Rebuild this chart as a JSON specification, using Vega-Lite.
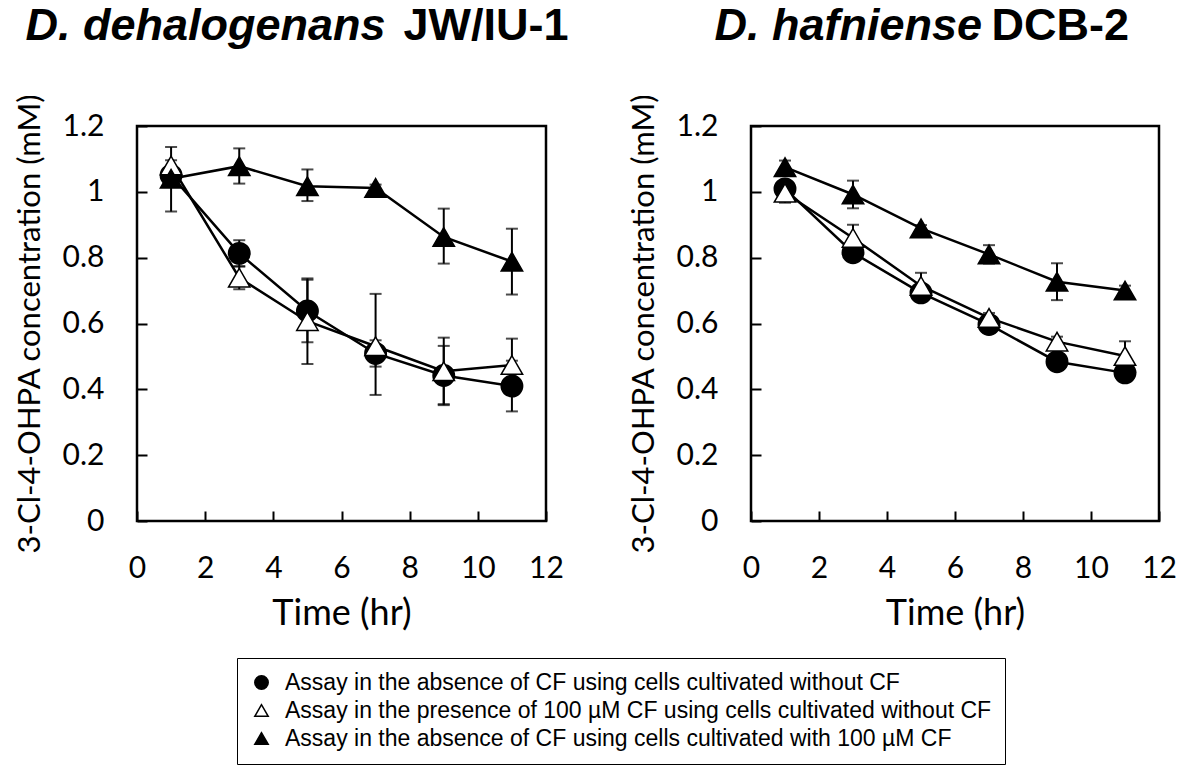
{
  "$schema": "https://vega.github.io/schema/vega-lite/v6.json",
  "background": "white",
  "padding": {"left": 12, "top": 1, "right": 5, "bottom": 5},
  "datasets": {
    "d": [
      {"panel": "L", "t": 1, "series": "Assay in the absence of CF using cells cultivated without CF", "v": 1.05, "lo": 1.04, "hi": 1.06},
      {"panel": "L", "t": 3, "series": "Assay in the absence of CF using cells cultivated without CF", "v": 0.813, "lo": 0.773, "hi": 0.853},
      {"panel": "L", "t": 5, "series": "Assay in the absence of CF using cells cultivated without CF", "v": 0.638, "lo": 0.543, "hi": 0.733},
      {"panel": "L", "t": 7, "series": "Assay in the absence of CF using cells cultivated without CF", "v": 0.509, "lo": 0.469, "hi": 0.549},
      {"panel": "L", "t": 9, "series": "Assay in the absence of CF using cells cultivated without CF", "v": 0.442, "lo": 0.352, "hi": 0.532},
      {"panel": "L", "t": 11, "series": "Assay in the absence of CF using cells cultivated without CF", "v": 0.41, "lo": 0.333, "hi": 0.487},
      {"panel": "L", "t": 1, "series": "Assay in the presence of 100 µM CF using cells cultivated without CF", "v": 1.08, "lo": 1.064, "hi": 1.096},
      {"panel": "L", "t": 3, "series": "Assay in the presence of 100 µM CF using cells cultivated without CF", "v": 0.739, "lo": 0.704, "hi": 0.774},
      {"panel": "L", "t": 5, "series": "Assay in the presence of 100 µM CF using cells cultivated without CF", "v": 0.607, "lo": 0.477, "hi": 0.737},
      {"panel": "L", "t": 7, "series": "Assay in the presence of 100 µM CF using cells cultivated without CF", "v": 0.531, "lo": 0.383, "hi": 0.69},
      {"panel": "L", "t": 9, "series": "Assay in the presence of 100 µM CF using cells cultivated without CF", "v": 0.455, "lo": 0.355, "hi": 0.557},
      {"panel": "L", "t": 11, "series": "Assay in the presence of 100 µM CF using cells cultivated without CF", "v": 0.474, "lo": 0.394, "hi": 0.554},
      {"panel": "L", "t": 1, "series": "Assay in the absence of  CF using cells cultivated with 100 µM CF", "v": 1.04, "lo": 0.94, "hi": 1.136},
      {"panel": "L", "t": 3, "series": "Assay in the absence of  CF using cells cultivated with 100 µM CF", "v": 1.078, "lo": 1.025, "hi": 1.132},
      {"panel": "L", "t": 5, "series": "Assay in the absence of  CF using cells cultivated with 100 µM CF", "v": 1.017, "lo": 0.972, "hi": 1.068},
      {"panel": "L", "t": 7, "series": "Assay in the absence of  CF using cells cultivated with 100 µM CF", "v": 1.012, "lo": 1.002, "hi": 1.022},
      {"panel": "L", "t": 9, "series": "Assay in the absence of  CF using cells cultivated with 100 µM CF", "v": 0.863, "lo": 0.782, "hi": 0.949},
      {"panel": "L", "t": 11, "series": "Assay in the absence of  CF using cells cultivated with 100 µM CF", "v": 0.788, "lo": 0.688, "hi": 0.888},
      {"panel": "R", "t": 1, "series": "Assay in the absence of CF using cells cultivated without CF", "v": 1.009, "lo": 0.989, "hi": 1.029},
      {"panel": "R", "t": 3, "series": "Assay in the absence of CF using cells cultivated without CF", "v": 0.815, "lo": 0.795, "hi": 0.835},
      {"panel": "R", "t": 5, "series": "Assay in the absence of CF using cells cultivated without CF", "v": 0.693, "lo": 0.673, "hi": 0.713},
      {"panel": "R", "t": 7, "series": "Assay in the absence of CF using cells cultivated without CF", "v": 0.597, "lo": 0.577, "hi": 0.617},
      {"panel": "R", "t": 9, "series": "Assay in the absence of CF using cells cultivated without CF", "v": 0.484, "lo": 0.474, "hi": 0.494},
      {"panel": "R", "t": 11, "series": "Assay in the absence of CF using cells cultivated without CF", "v": 0.45, "lo": 0.44, "hi": 0.46},
      {"panel": "R", "t": 1, "series": "Assay in the presence of 100 µM CF using cells cultivated without CF", "v": 0.997, "lo": 0.967, "hi": 1.027},
      {"panel": "R", "t": 3, "series": "Assay in the presence of 100 µM CF using cells cultivated without CF", "v": 0.86, "lo": 0.82, "hi": 0.9},
      {"panel": "R", "t": 5, "series": "Assay in the presence of 100 µM CF using cells cultivated without CF", "v": 0.714, "lo": 0.674, "hi": 0.754},
      {"panel": "R", "t": 7, "series": "Assay in the presence of 100 µM CF using cells cultivated without CF", "v": 0.617, "lo": 0.602, "hi": 0.632},
      {"panel": "R", "t": 9, "series": "Assay in the presence of 100 µM CF using cells cultivated without CF", "v": 0.545, "lo": 0.53, "hi": 0.56},
      {"panel": "R", "t": 11, "series": "Assay in the presence of 100 µM CF using cells cultivated without CF", "v": 0.501, "lo": 0.456, "hi": 0.546},
      {"panel": "R", "t": 1, "series": "Assay in the absence of  CF using cells cultivated with 100 µM CF", "v": 1.075, "lo": 1.055, "hi": 1.095},
      {"panel": "R", "t": 3, "series": "Assay in the absence of  CF using cells cultivated with 100 µM CF", "v": 0.992, "lo": 0.95, "hi": 1.034},
      {"panel": "R", "t": 5, "series": "Assay in the absence of  CF using cells cultivated with 100 µM CF", "v": 0.889, "lo": 0.879, "hi": 0.899},
      {"panel": "R", "t": 7, "series": "Assay in the absence of  CF using cells cultivated with 100 µM CF", "v": 0.81, "lo": 0.782, "hi": 0.838},
      {"panel": "R", "t": 9, "series": "Assay in the absence of  CF using cells cultivated with 100 µM CF", "v": 0.727, "lo": 0.671, "hi": 0.783},
      {"panel": "R", "t": 11, "series": "Assay in the absence of  CF using cells cultivated with 100 µM CF", "v": 0.70, "lo": 0.685, "hi": 0.715}
    ]
  },
  "data": {"name": "d"},
  "spacing": 205,
  "bounds": "flush",
  "resolve": {"scale": {"shape": "shared", "fill": "shared", "stroke": "shared"}, "legend": {"shape": "shared", "fill": "shared", "stroke": "shared"}},
  "hconcat": [
    {
      "width": 409,
      "height": 395,
      "transform": [{"filter": "datum.panel == 'L'"}],
      "resolve": {"axis": {"x": "independent"}},
      "layer": [
        {
          "mark": {"type": "errorbar", "ticks": true, "size": 12, "thickness": 2, "color": "black"},
          "encoding": {
            "x": {"field": "t", "type": "quantitative", "scale": {"domain": [0, 12]},
              "axis": {"orient": "top", "title": "D. dehalogenans", "labels": false, "ticks": false, "domain": false, "grid": false,
                "titleFont": "Liberation Sans", "titleFontSize": 45, "titleFontWeight": "bold", "titleFontStyle": "italic", "titleColor": "black",
                "titleX": -112, "titleY": -87, "titleAlign": "left", "titleBaseline": "alphabetic", "titleAngle": 0}},
            "y": {"field": "lo", "type": "quantitative", "scale": {"domain": [0, 1.2]},
              "axis": {"title": "3-Cl-4-OHPA concentration (mM)", "values": [0, 0.2, 0.4, 0.6, 0.8, 1, 1.2], "format": "~g", "grid": false, "domain": false, "labelFlush": false,
                "tickSize": -10, "tickWidth": 2, "tickColor": "black", "labelFont": "Lato", "labelFontSize": 30, "labelColor": "black", "labelPadding": 43,
                "titleFont": "Lato", "titleFontSize": 31, "titleFontWeight": "normal", "titleColor": "black", "titlePadding": 16}},
            "y2": {"field": "hi"},
            "detail": {"field": "series"}
          }
        },
        {
          "mark": {"type": "line", "color": "black", "strokeWidth": 2.5},
          "encoding": {
            "x": {"field": "t", "type": "quantitative", "scale": {"domain": [0, 12]},
              "axis": {"orient": "bottom", "title": "Time (hr)", "values": [0, 2, 4, 6, 8, 10, 12], "grid": false, "domain": false, "labelFlush": false,
                "tickSize": -10, "tickWidth": 2, "tickColor": "black", "labelFont": "Lato", "labelFontSize": 30, "labelColor": "black", "labelPadding": 42,
                "titleFont": "Lato", "titleFontSize": 36, "titleFontWeight": "normal", "titleColor": "black", "titlePadding": 13}},
            "y": {"field": "v", "type": "quantitative", "scale": {"domain": [0, 1.2]},
              "axis": {"title": "3-Cl-4-OHPA concentration (mM)", "values": [0, 0.2, 0.4, 0.6, 0.8, 1, 1.2], "format": "~g", "grid": false, "domain": false, "labelFlush": false,
                "tickSize": -10, "tickWidth": 2, "tickColor": "black", "labelFont": "Lato", "labelFontSize": 30, "labelColor": "black", "labelPadding": 43,
                "titleFont": "Lato", "titleFontSize": 31, "titleFontWeight": "normal", "titleColor": "black", "titlePadding": 16}},
            "detail": {"field": "series"}
          }
        },
        {
          "mark": {"type": "point", "filled": true, "strokeWidth": 1.5, "opacity": 1, "size": 460},
          "encoding": {
            "x": {"field": "t", "type": "quantitative", "scale": {"domain": [0, 12]},
              "axis": {"orient": "top", "title": "JW/IU-1", "labels": false, "ticks": false, "domain": false, "grid": false,
                "titleFont": "Liberation Sans", "titleFontSize": 45, "titleFontWeight": "bold", "titleFontStyle": "normal", "titleColor": "black",
                "titleX": 266, "titleY": -87, "titleAlign": "left", "titleBaseline": "alphabetic", "titleAngle": 0}},
            "y": {"field": "v", "type": "quantitative", "scale": {"domain": [0, 1.2]},
              "axis": {"title": "3-Cl-4-OHPA concentration (mM)", "values": [0, 0.2, 0.4, 0.6, 0.8, 1, 1.2], "format": "~g", "grid": false, "domain": false, "labelFlush": false,
                "tickSize": -10, "tickWidth": 2, "tickColor": "black", "labelFont": "Lato", "labelFontSize": 30, "labelColor": "black", "labelPadding": 43,
                "titleFont": "Lato", "titleFontSize": 31, "titleFontWeight": "normal", "titleColor": "black", "titlePadding": 16}},
            "shape": {"field": "series", "type": "nominal",
              "scale": {"domain": ["Assay in the absence of CF using cells cultivated without CF", "Assay in the presence of 100 µM CF using cells cultivated without CF", "Assay in the absence of  CF using cells cultivated with 100 µM CF"], "range": ["circle", "triangle-up", "triangle-up"]},
              "legend": {"orient": "none", "legendX": 100, "legendY": 532, "title": null, "direction": "vertical", "strokeColor": "black", "fillColor": "white", "padding": 13, "labelFont": "Liberation Sans", "labelFontSize": 23, "labelColor": "black", "labelLimit": 900, "labelOffset": 12, "symbolSize": 180, "symbolStrokeWidth": 1.5, "symbolOpacity": 1, "rowPadding": 4, "cornerRadius": 0}},
            "fill": {"field": "series", "type": "nominal",
              "scale": {"domain": ["Assay in the absence of CF using cells cultivated without CF", "Assay in the presence of 100 µM CF using cells cultivated without CF", "Assay in the absence of  CF using cells cultivated with 100 µM CF"], "range": ["black", "white", "black"]},
              "legend": {"orient": "none", "legendX": 100, "legendY": 532, "title": null, "direction": "vertical", "strokeColor": "black", "fillColor": "white", "padding": 13, "labelFont": "Liberation Sans", "labelFontSize": 23, "labelColor": "black", "labelLimit": 900, "labelOffset": 12, "symbolSize": 180, "symbolStrokeWidth": 1.5, "symbolOpacity": 1, "rowPadding": 4, "cornerRadius": 0}},
            "stroke": {"field": "series", "type": "nominal",
              "scale": {"domain": ["Assay in the absence of CF using cells cultivated without CF", "Assay in the presence of 100 µM CF using cells cultivated without CF", "Assay in the absence of  CF using cells cultivated with 100 µM CF"], "range": ["black", "black", "black"]},
              "legend": {"orient": "none", "legendX": 100, "legendY": 532, "title": null, "direction": "vertical", "strokeColor": "black", "fillColor": "white", "padding": 13, "labelFont": "Liberation Sans", "labelFontSize": 23, "labelColor": "black", "labelLimit": 900, "labelOffset": 12, "symbolSize": 180, "symbolStrokeWidth": 1.5, "symbolOpacity": 1, "rowPadding": 4, "cornerRadius": 0}}
          }
        }
      ]
    },
    {
      "width": 408,
      "height": 395,
      "transform": [{"filter": "datum.panel == 'R'"}],
      "resolve": {"axis": {"x": "independent"}},
      "layer": [
        {
          "mark": {"type": "errorbar", "ticks": true, "size": 12, "thickness": 2, "color": "black"},
          "encoding": {
            "x": {"field": "t", "type": "quantitative", "scale": {"domain": [0, 12]},
              "axis": {"orient": "top", "title": "D. hafniense", "labels": false, "ticks": false, "domain": false, "grid": false,
                "titleFont": "Liberation Sans", "titleFontSize": 45, "titleFontWeight": "bold", "titleFontStyle": "italic", "titleColor": "black",
                "titleX": -37, "titleY": -87, "titleAlign": "left", "titleBaseline": "alphabetic", "titleAngle": 0}},
            "y": {"field": "lo", "type": "quantitative", "scale": {"domain": [0, 1.2]},
              "axis": {"title": "3-Cl-4-OHPA concentration (mM)", "values": [0, 0.2, 0.4, 0.6, 0.8, 1, 1.2], "format": "~g", "grid": false, "domain": false, "labelFlush": false,
                "tickSize": -10, "tickWidth": 2, "tickColor": "black", "labelFont": "Lato", "labelFontSize": 30, "labelColor": "black", "labelPadding": 43,
                "titleFont": "Lato", "titleFontSize": 31, "titleFontWeight": "normal", "titleColor": "black", "titlePadding": 16}},
            "y2": {"field": "hi"},
            "detail": {"field": "series"}
          }
        },
        {
          "mark": {"type": "line", "color": "black", "strokeWidth": 2.5},
          "encoding": {
            "x": {"field": "t", "type": "quantitative", "scale": {"domain": [0, 12]},
              "axis": {"orient": "bottom", "title": "Time (hr)", "values": [0, 2, 4, 6, 8, 10, 12], "grid": false, "domain": false, "labelFlush": false,
                "tickSize": -10, "tickWidth": 2, "tickColor": "black", "labelFont": "Lato", "labelFontSize": 30, "labelColor": "black", "labelPadding": 42,
                "titleFont": "Lato", "titleFontSize": 36, "titleFontWeight": "normal", "titleColor": "black", "titlePadding": 13}},
            "y": {"field": "v", "type": "quantitative", "scale": {"domain": [0, 1.2]},
              "axis": {"title": "3-Cl-4-OHPA concentration (mM)", "values": [0, 0.2, 0.4, 0.6, 0.8, 1, 1.2], "format": "~g", "grid": false, "domain": false, "labelFlush": false,
                "tickSize": -10, "tickWidth": 2, "tickColor": "black", "labelFont": "Lato", "labelFontSize": 30, "labelColor": "black", "labelPadding": 43,
                "titleFont": "Lato", "titleFontSize": 31, "titleFontWeight": "normal", "titleColor": "black", "titlePadding": 16}},
            "detail": {"field": "series"}
          }
        },
        {
          "mark": {"type": "point", "filled": true, "strokeWidth": 1.5, "opacity": 1, "size": 460},
          "encoding": {
            "x": {"field": "t", "type": "quantitative", "scale": {"domain": [0, 12]},
              "axis": {"orient": "top", "title": "DCB-2", "labels": false, "ticks": false, "domain": false, "grid": false,
                "titleFont": "Liberation Sans", "titleFontSize": 45, "titleFontWeight": "bold", "titleFontStyle": "normal", "titleColor": "black",
                "titleX": 240, "titleY": -87, "titleAlign": "left", "titleBaseline": "alphabetic", "titleAngle": 0}},
            "y": {"field": "v", "type": "quantitative", "scale": {"domain": [0, 1.2]},
              "axis": {"title": "3-Cl-4-OHPA concentration (mM)", "values": [0, 0.2, 0.4, 0.6, 0.8, 1, 1.2], "format": "~g", "grid": false, "domain": false, "labelFlush": false,
                "tickSize": -10, "tickWidth": 2, "tickColor": "black", "labelFont": "Lato", "labelFontSize": 30, "labelColor": "black", "labelPadding": 43,
                "titleFont": "Lato", "titleFontSize": 31, "titleFontWeight": "normal", "titleColor": "black", "titlePadding": 16}},
            "shape": {"field": "series", "type": "nominal",
              "scale": {"domain": ["Assay in the absence of CF using cells cultivated without CF", "Assay in the presence of 100 µM CF using cells cultivated without CF", "Assay in the absence of  CF using cells cultivated with 100 µM CF"], "range": ["circle", "triangle-up", "triangle-up"]},
              "legend": {"orient": "none", "legendX": 100, "legendY": 532, "title": null, "direction": "vertical", "strokeColor": "black", "fillColor": "white", "padding": 13, "labelFont": "Liberation Sans", "labelFontSize": 23, "labelColor": "black", "labelLimit": 900, "labelOffset": 12, "symbolSize": 180, "symbolStrokeWidth": 1.5, "symbolOpacity": 1, "rowPadding": 4, "cornerRadius": 0}},
            "fill": {"field": "series", "type": "nominal",
              "scale": {"domain": ["Assay in the absence of CF using cells cultivated without CF", "Assay in the presence of 100 µM CF using cells cultivated without CF", "Assay in the absence of  CF using cells cultivated with 100 µM CF"], "range": ["black", "white", "black"]},
              "legend": {"orient": "none", "legendX": 100, "legendY": 532, "title": null, "direction": "vertical", "strokeColor": "black", "fillColor": "white", "padding": 13, "labelFont": "Liberation Sans", "labelFontSize": 23, "labelColor": "black", "labelLimit": 900, "labelOffset": 12, "symbolSize": 180, "symbolStrokeWidth": 1.5, "symbolOpacity": 1, "rowPadding": 4, "cornerRadius": 0}},
            "stroke": {"field": "series", "type": "nominal",
              "scale": {"domain": ["Assay in the absence of CF using cells cultivated without CF", "Assay in the presence of 100 µM CF using cells cultivated without CF", "Assay in the absence of  CF using cells cultivated with 100 µM CF"], "range": ["black", "black", "black"]},
              "legend": {"orient": "none", "legendX": 100, "legendY": 532, "title": null, "direction": "vertical", "strokeColor": "black", "fillColor": "white", "padding": 13, "labelFont": "Liberation Sans", "labelFontSize": 23, "labelColor": "black", "labelLimit": 900, "labelOffset": 12, "symbolSize": 180, "symbolStrokeWidth": 1.5, "symbolOpacity": 1, "rowPadding": 4, "cornerRadius": 0}}
          }
        }
      ]
    }
  ],
  "config": {
    "view": {"stroke": "black", "strokeWidth": 2.5},
    "axis": {"labelFont": "Lato", "titleFont": "Lato"}
  }
}
